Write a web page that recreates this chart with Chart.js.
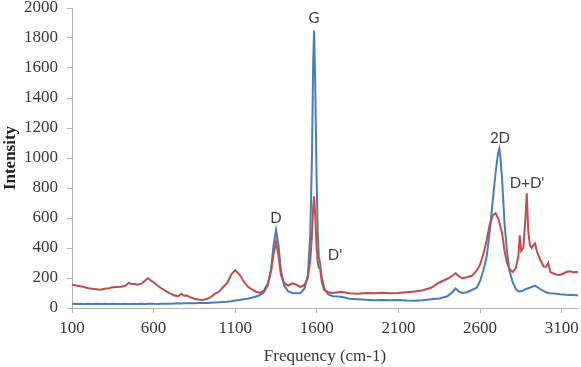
<!DOCTYPE html>
<html>
<head>
<meta charset="utf-8">
<script src="https://cdn.jsdelivr.net/npm/chart.js@4/dist/chart.umd.min.js"></script>
<style>
html,body{margin:0;padding:0;background:#fff;}
#wrap{width:581px;height:367px;position:relative;}
</style>
</head>
<body>
<div id="wrap"><canvas id="c" width="581" height="367"></canvas></div>
<script>
// Raman shift (cm-1)
const frequency = [100,125,150,175,200,225,250,275,300,325,350,375,400,425,450,465,480,500,525,550,565,585,600,625,650,675,700,725,750,770,785,800,825,850,875,900,925,950,975,1000,1025,1050,1075,1100,1125,1150,1175,1200,1225,1250,1275,1300,1320,1335,1350,1365,1380,1400,1425,1450,1475,1500,1525,1545,1560,1570,1577,1583,1590,1598,1605,1612,1620,1630,1645,1670,1700,1750,1800,1850,1900,1950,2000,2050,2100,2150,2200,2250,2300,2350,2400,2430,2450,2470,2490,2520,2550,2580,2600,2620,2640,2660,2680,2695,2710,2718,2725,2735,2750,2765,2780,2800,2820,2835,2843,2852,2865,2878,2886,2895,2905,2916,2927,2937,2950,2970,2990,3005,3018,3030,3050,3070,3090,3110,3130,3150,3170,3190,3200];
const blueSeries = [28,27,29,26,28,27,29,26,28,27,29,26,27,28,27,26,28,27,28,27,28,29,28,27,29,28,29,30,31,30,31,32,31,32,33,34,33,35,37,38,40,42,45,50,53,58,62,68,75,85,105,150,260,420,520,420,250,150,110,100,98,100,130,220,500,1000,1600,1850,1500,900,520,340,300,210,130,90,78,75,62,58,55,52,54,52,53,50,49,52,58,64,78,105,130,110,100,105,120,135,180,250,340,520,740,900,1030,1062,1000,860,560,380,250,170,125,110,112,112,118,125,128,132,136,140,145,148,140,125,112,105,100,98,97,95,92,90,88,87,86,85,84];
const redSeries = [155,150,145,140,132,128,125,122,128,132,138,140,142,148,168,158,162,155,162,185,198,182,172,148,130,112,98,85,78,95,82,84,72,62,56,54,60,72,95,108,138,165,222,252,225,180,145,125,110,100,115,165,250,360,440,350,220,165,150,165,155,140,155,200,320,480,660,745,620,420,310,270,262,175,120,105,100,108,98,95,100,98,102,98,100,105,110,118,135,170,195,215,232,212,198,205,215,250,290,360,450,560,620,632,600,570,540,500,380,300,260,240,270,350,485,380,400,600,765,520,420,400,420,430,370,320,275,275,300,240,230,222,220,230,240,245,238,240,238];
const xTicks = [100,600,1100,1600,2100,2600,3100];
const yTicks = [0,200,400,600,800,1000,1200,1400,1600,1800,2000];
const peakLabels = ["D","G","D'","2D","D+D'"];
const peakLabelX = [1350,1583,1711,2722,2888];
const peakLabelY = [600,1933,353,1133,833];

const peakLabelPlugin = {
  id: 'peakLabels',
  afterDatasetsDraw(chart){
    const ctx = chart.ctx, xs = chart.scales.x, ys = chart.scales.y;
    ctx.save();
    ctx.font = '15px Lato, "Open Sans", sans-serif';
    ctx.fillStyle = '#404040';
    ctx.textAlign = 'center';
    ctx.textBaseline = 'middle';
    peakLabels.forEach((t,i)=>{
      ctx.fillText(t, xs.getPixelForValue(peakLabelX[i]), ys.getPixelForValue(peakLabelY[i]));
    });
    ctx.restore();
  }
};

const tickFont = {family:'"Liberation Serif", "Times New Roman", serif', size:17};
new Chart(document.getElementById('c'), {
  type:'line',
  data:{
    datasets:[
      {label:'red', data: frequency.map((f,i)=>({x:f,y:redSeries[i]})), borderColor:'#c0504d', borderWidth:2, pointRadius:0, tension:0, fill:false},
      {label:'blue', data: frequency.map((f,i)=>({x:f,y:blueSeries[i]})), borderColor:'#4a7ebb', borderWidth:2, pointRadius:0, tension:0, fill:false}
    ]
  },
  options:{
    responsive:false,
    animation:false,
    layout:{padding:{top:8,right:3,left:0,bottom:0}},
    plugins:{legend:{display:false},tooltip:{enabled:false}},
    scales:{
      x:{
        type:'linear', min:100, max:3200,
        afterBuildTicks(s){ s.ticks = xTicks.map(v=>({value:v})); },
        afterFit(s){ s.height = 59; s.paddingLeft = 0; s.paddingRight = 0; },
        grid:{drawOnChartArea:false, drawTicks:true, tickLength:5, color:'#b5b5b5'},
        border:{display:true, color:'#b5b5b5', width:1},
        ticks:{font:tickFont, color:'#3a3a3a', padding:5, maxRotation:0, autoSkip:false, callback:(v)=>String(v)},
        title:{display:true, text:'Frequency (cm-1)', font:tickFont, color:'#3a3a3a', padding:{top:8,bottom:0}}
      },
      y:{
        min:0, max:2000,
        afterBuildTicks(s){ s.ticks = yTicks.map(v=>({value:v})); },
        afterFit(s){ s.width = 72; s.paddingTop = 0; s.paddingBottom = 0; },
        grid:{drawOnChartArea:false, drawTicks:true, tickLength:5, color:'#b5b5b5'},
        border:{display:true, color:'#b5b5b5', width:1},
        ticks:{font:tickFont, color:'#3a3a3a', padding:9, autoSkip:false, callback:(v)=>String(v)},
        title:{display:true, text:'Intensity', font:{family:'"Liberation Serif", "Times New Roman", serif', size:17, weight:'bold'}, color:'#222', padding:{top:0,bottom:0}}
      }
    }
  },
  plugins:[peakLabelPlugin]
});
</script>
</body>
</html>
